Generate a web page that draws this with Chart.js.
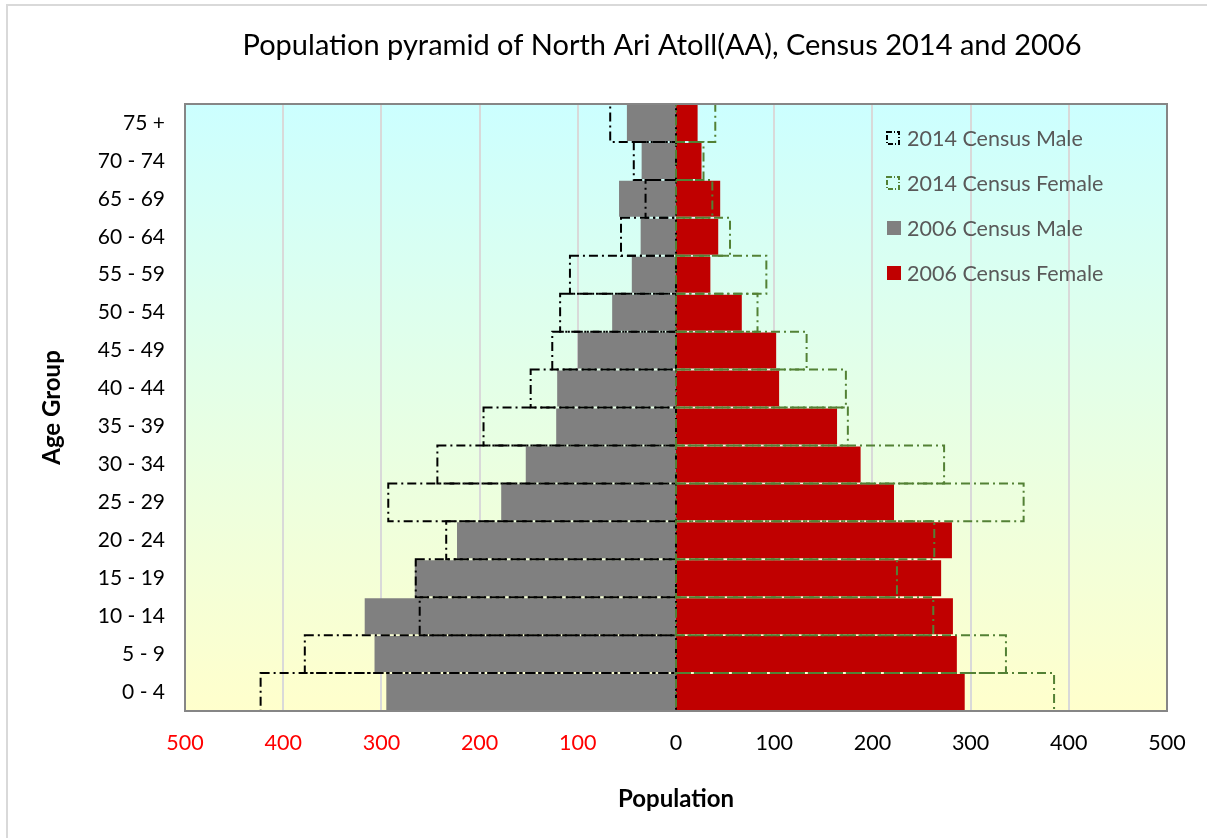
<!DOCTYPE html>
<html>
<head>
<meta charset="utf-8">
<script src="https://cdn.jsdelivr.net/npm/chart.js@4/dist/chart.umd.min.js"></script>
<style>
  html, body { margin: 0; padding: 0; background: #fff; overflow: hidden; }
  #wrap { position: relative; width: 1207px; height: 838px; }
  #frame { position: absolute; left: 6px; top: 4px; width: 1300px; height: 900px; border: 2px solid #d9d9d9; box-sizing: border-box; pointer-events: none; }
  canvas { position: absolute; left: 0; top: 0; }
</style>
</head>
<body>
<div id="wrap">
  <div id="frame"></div>
  <canvas id="c" width="1207" height="838"></canvas>
</div>
<script>
// Age groups, top to bottom
const ageGroups = ['75 +', '70 - 74', '65 - 69', '60 - 64', '55 - 59', '50 - 54', '45 - 49', '40 - 44',
                   '35 - 39', '30 - 34', '25 - 29', '20 - 24', '15 - 19', '10 - 14', '5 - 9', '0 - 4'];
const male2014   = [67, 43, 31, 56, 108, 118, 126, 148, 196, 243, 293, 234, 265, 261, 378, 423];
const female2014 = [40, 28, 37, 55, 92, 83, 133, 173, 175, 273, 354, 263, 225, 262, 336, 385];
const male2006   = [50, 35, 58, 36, 45, 65, 100, 121, 122, 153, 178, 223, 266, 317, 307, 295];
const female2006 = [22, 26, 45, 43, 35, 67, 102, 105, 164, 188, 222, 281, 270, 282, 286, 294];
const xTicks = [-500, -400, -300, -200, -100, 0, 100, 200, 300, 400, 500];
const chartTitle = 'Population pyramid of North Ari Atoll(AA), Census 2014 and 2006';

const FONT = 'Lato, "Open Sans", sans-serif';
const DASH = [9, 4, 2, 4];

const bgPlugin = {
  id: 'bg',
  beforeDatasetsDraw(chart) {
    const {ctx, chartArea: a} = chart;
    ctx.save();
    const g = ctx.createLinearGradient(0, a.top, 0, a.bottom);
    g.addColorStop(0, '#ccffff');
    g.addColorStop(1, '#ffffcc');
    ctx.fillStyle = g;
    ctx.fillRect(a.left, a.top, a.right - a.left, a.bottom - a.top);
    // vertical gridlines
    const xs = chart.scales.x;
    ctx.strokeStyle = '#d9d9d9';
    ctx.lineWidth = 2;
    xTicks.forEach(v => {
      if (v === -500 || v === 500 || v === 0) return;
      const px = Math.round(xs.getPixelForValue(v));
      ctx.beginPath(); ctx.moveTo(px, a.top); ctx.lineTo(px, a.bottom); ctx.stroke();
    });
    ctx.restore();
  },
  afterDatasetsDraw(chart) {
    const {ctx, chartArea: a} = chart;
    ctx.save();
    // dashed outlines for 2014 datasets
    chart.data.datasets.forEach((ds, i) => {
      if (!ds.dashed) return;
      const meta = chart.getDatasetMeta(i);
      ctx.strokeStyle = ds.dashColor;
      ctx.lineWidth = 2;
      ctx.setLineDash(DASH);
      meta.data.forEach(el => {
        const p = el.getProps(['x', 'y', 'base', 'height'], true);
        const x1 = Math.min(p.x, p.base), x2 = Math.max(p.x, p.base);
        const y1 = p.y - p.height / 2, y2 = p.y + p.height / 2;
        ctx.strokeRect(x1, y1, x2 - x1, y2 - y1);
      });
    });
    ctx.setLineDash([]);
    // plot-area border
    ctx.strokeStyle = '#868686';
    ctx.lineWidth = 2;
    ctx.strokeRect(a.left, a.top, a.right - a.left, a.bottom - a.top);
    // legend inside plot
    const lx = 887, ly0 = 138, step = 45;
    ctx.font = '21.5px ' + FONT;
    ctx.textBaseline = 'middle';
    ctx.textAlign = 'left';
    chart.data.datasets.forEach((ds, i) => {
      const y = ly0 + i * step;
      if (ds.dashed) {
        ctx.strokeStyle = ds.dashColor;
        ctx.lineWidth = 2;
        ctx.setLineDash([5, 2, 1, 2]);
        ctx.strokeRect(lx, y - 6, 12, 12);
        ctx.setLineDash([]);
      } else {
        ctx.fillStyle = ds.backgroundColor;
        ctx.fillRect(lx, y - 7, 14, 14);
      }
      ctx.fillStyle = '#595959';
      ctx.fillText(ds.label, lx + 20, y + 1);
    });
    // chart title
    ctx.font = '29px ' + FONT;
    ctx.fillStyle = '#000';
    ctx.textAlign = 'center';
    ctx.fillText(chartTitle, 662, 46);
    ctx.restore();
  }
};

new Chart(document.getElementById('c'), {
  type: 'bar',
  data: {
    labels: ageGroups,
    datasets: [
      { label: '2014 Census Male', data: male2014.map(v => -v), dashed: true, dashColor: '#000000',
        backgroundColor: 'rgba(0,0,0,0)', borderWidth: 0, grouped: false, barPercentage: 1, categoryPercentage: 1 },
      { label: '2014 Census Female', data: female2014, dashed: true, dashColor: '#538135',
        backgroundColor: 'rgba(0,0,0,0)', borderWidth: 0, grouped: false, barPercentage: 1, categoryPercentage: 1 },
      { label: '2006 Census Male', data: male2006.map(v => -v), backgroundColor: '#808080',
        borderWidth: 0, grouped: false, barPercentage: 0.95, categoryPercentage: 1 },
      { label: '2006 Census Female', data: female2006, backgroundColor: '#c00000',
        borderWidth: 0, grouped: false, barPercentage: 0.95, categoryPercentage: 1 }
    ]
  },
  options: {
    indexAxis: 'y',
    responsive: false,
    animation: false,
    layout: { padding: { left: 6, right: 40, top: 104, bottom: 0 } },
    plugins: {
      legend: { display: false },
      tooltip: { enabled: false },
      title: { display: false }
    },
    scales: {
      x: {
        type: 'linear',
        min: -500, max: 500,
        afterBuildTicks(s) { s.ticks = xTicks.map(v => ({ value: v })); },
        afterFit(s) { s.height = 127; },
        grid: { display: false, drawTicks: false },
        border: { display: false },
        ticks: {
          padding: 19,
          maxRotation: 0,
          font: { family: FONT, size: 21.5 },
          color: c => (c.tick && c.tick.value < 0) ? '#ff0000' : '#000000',
          callback: v => String(Math.abs(v))
        },
        title: {
          display: true, text: 'Population', color: '#000',
          font: { family: FONT, size: 24, weight: 'bold' },
          padding: { top: 0, bottom: 24 }
        }
      },
      y: {
        afterFit(s) { s.width = 179; },
        grid: { display: false, drawTicks: false },
        border: { display: false },
        ticks: { padding: 20, font: { family: FONT, size: 21 }, color: '#000' },
        title: {
          display: true, text: 'Age Group', color: '#000',
          font: { family: FONT, size: 24, weight: 'bold' },
          padding: { top: 32, bottom: 0 }
        }
      }
    }
  },
  plugins: [bgPlugin]
});
</script>
</body>
</html>
